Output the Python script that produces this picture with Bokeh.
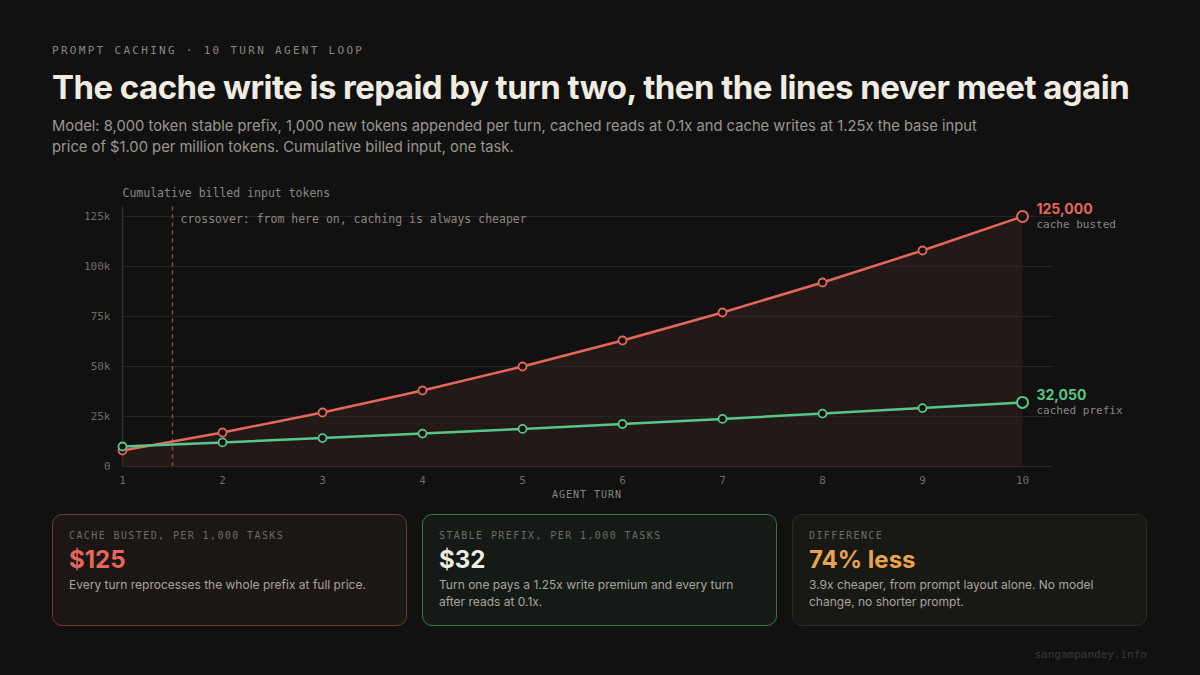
from bokeh.plotting import figure
from bokeh.models import (Range1d, FixedTicker, Label, Div, ColumnDataSource)
from bokeh.layouts import column
from bokeh.embed import file_html
from bokeh.resources import INLINE

# ---------------- data ----------------
turns = [1, 2, 3, 4, 5, 6, 7, 8, 9, 10]
busted = [8000, 17000, 27000, 38000, 50000, 63000, 77000, 92000, 108000, 125000]
cached = [10000, 12050, 14200, 16450, 18800, 21250, 23800, 26450, 29200, 32050]
y_ticks = [0, 25000, 50000, 75000, 100000, 125000]
y_tick_labels = ["0", "25k", "50k", "75k", "100k", "125k"]
x_tick_labels = [str(t) for t in turns]
x_axis_title = "AGENT TURN"
crossover_turn = 1.5
axis_top = 130000
axis_right = 10.3
series_names = ["cache busted", "cached prefix"]
card_labels = ["CACHE BUSTED, PER 1,000 TASKS", "STABLE PREFIX, PER 1,000 TASKS", "DIFFERENCE"]
card_values = ["$125", "$32", "74% less"]
card_texts = ["Every turn reprocesses the whole prefix at full price.",
              "Turn one pays a 1.25x write premium and every turn<br>after reads at 0.1x.",
              "3.9x cheaper, from prompt layout alone. No model<br>change, no shorter prompt."]

# ---------------- style ----------------
BG = "#111111"
RED = "#e5675a"
GREEN = "#58c88a"
ORANGE = "#e9a34f"
CREAM = "#f0ece1"
GRAY = "#8a8781"
DIM = "#6f6c67"
MONO = "DejaVu Sans Mono"
SANS = "Inter"

# ---------------- header ----------------
header_html = f"""
<div style="width:1184px;height:168px;box-sizing:border-box;padding:36px 0 0 44px;background:{BG};">
  <div style="font-family:'{MONO}';font-size:11px;line-height:14px;letter-spacing:2.3px;color:{GRAY};white-space:nowrap;">PROMPT CACHING · 10 TURN AGENT LOOP</div>
  <div style="font-family:'{SANS}';font-weight:700;font-size:33px;line-height:40px;letter-spacing:-0.55px;color:{CREAM};margin-top:9px;white-space:nowrap;">The cache write is repaid by turn two, then the lines never meet again</div>
  <div style="font-family:'{SANS}';font-size:14.75px;line-height:21px;color:#9a9790;margin-top:9px;white-space:nowrap;">Model: 8,000 token stable prefix, 1,000 new tokens appended per turn, cached reads at 0.1x and cache writes at 1.25x the base input<br>price of $1.00 per million tokens. Cumulative billed input, one task.</div>
</div>
"""
header = Div(text=header_html, width=1184, height=168, margin=0, disable_math=True)

# ---------------- chart ----------------
p = figure(width=1184, height=313, x_range=Range1d(0.88, 11.30), y_range=Range1d(0, 143000),
           output_backend="svg", toolbar_location=None,
           min_border_left=102, min_border_right=40, min_border_top=4, min_border_bottom=23,
           background_fill_color=BG, border_fill_color=BG, outline_line_color=None)
p.xgrid.visible = False
p.ygrid.visible = False

# area under the cache-busted line
p.varea(x=turns, y1=[0] * len(turns), y2=busted, fill_color="#231a18")

# grid lines (from tick values)
grid_src = ColumnDataSource(dict(y=y_ticks[1:]))
p.segment(x0=turns[0], x1=axis_right, y0="y", y1="y", source=grid_src, line_color="#272523", line_width=1)
# y axis line at turn 1
p.segment(x0=[turns[0]], x1=[turns[0]], y0=[0], y1=[axis_top], line_color="#2f2d2a", line_width=1.5)

# crossover marker
p.segment(x0=[crossover_turn], x1=[crossover_turn], y0=[0], y1=[axis_top],
          line_color="#934a3b", line_dash="4 4", line_width=1.5)

# series
p.line(turns, busted, line_color=RED, line_width=2.5)
p.line(turns, cached, line_color=GREEN, line_width=2.5)
p.scatter(turns[:-1], busted[:-1], size=8, fill_color=BG, line_color=RED, line_width=1.8)
p.scatter(turns[:-1], cached[:-1], size=8, fill_color=BG, line_color=GREEN, line_width=1.8)
p.scatter(turns[-1:], busted[-1:], size=11, fill_color=BG, line_color=RED, line_width=2)
p.scatter(turns[-1:], cached[-1:], size=11, fill_color=BG, line_color=GREEN, line_width=2)

# axes
xa = p.xaxis[0]
xa.ticker = FixedTicker(ticks=turns)
xa.major_label_overrides = {t: l for t, l in zip(turns, x_tick_labels)}
xa.bounds = (turns[0], axis_right)
xa.axis_line_color = "#2c2a28"
xa.axis_line_width = 1
xa.major_tick_line_color = None
xa.minor_tick_line_color = None
xa.major_tick_out = 0
xa.major_tick_in = 0
xa.major_label_standoff = 9
xa.major_label_text_font = MONO
xa.major_label_text_font_size = "11px"
xa.major_label_text_color = DIM

ya = p.yaxis[0]
ya.ticker = FixedTicker(ticks=y_ticks)
ya.major_label_overrides = {t: l for t, l in zip(y_ticks, y_tick_labels)}
ya.axis_line_color = None
ya.major_tick_line_color = None
ya.minor_tick_line_color = None
ya.major_tick_out = 0
ya.major_tick_in = 0
ya.major_label_standoff = 0
ya.major_label_text_font = MONO
ya.major_label_text_font_size = "11px"
ya.major_label_text_color = DIM

# annotations
p.add_layout(Label(x=turns[0], y=axis_top, y_offset=14, text="Cumulative billed input tokens",
                   text_font=MONO, text_font_size="11.5px", text_color=GRAY, text_baseline="middle"))
p.add_layout(Label(x=crossover_turn, x_offset=8, y=y_ticks[-1], y_offset=-2,
                   text="crossover: from here on, caching is always cheaper",
                   text_font=MONO, text_font_size="11.5px", text_color=GRAY, text_baseline="middle"))

for vals, col, name in [(busted, RED, series_names[0]), (cached, GREEN, series_names[1])]:
    p.add_layout(Label(x=turns[-1], y=vals[-1], x_offset=14, y_offset=8, text=f"{vals[-1]:,}",
                       text_font=SANS, text_font_style="bold", text_font_size="14px",
                       text_color=col, text_baseline="middle"))
    p.add_layout(Label(x=turns[-1], y=vals[-1], x_offset=14, y_offset=-8, text=name,
                       text_font=MONO, text_font_size="11px", text_color=GRAY, text_baseline="middle"))

# ---------------- cards ----------------
card_styles = [("#6e3a31", "#1c1615", RED), ("#3a7450", "#151a17", CREAM), ("#2b2a27", "#181815", ORANGE)]
cards_inner = ""
for (border, bg, vcol), lab, val, txt in zip(card_styles, card_labels, card_values, card_texts):
    cards_inner += f"""
  <div style="box-sizing:border-box;width:355px;height:112px;border:1px solid {border};border-radius:10px;background:{bg};padding:14px 16px 0 16px;flex:none;">
    <div style="font-family:'{MONO}';font-size:10px;line-height:13px;letter-spacing:1.4px;color:{DIM};white-space:nowrap;">{lab}</div>
    <div style="font-family:'{SANS}';font-weight:700;font-size:24px;line-height:30px;color:{vcol};margin-top:3px;white-space:nowrap;">{val}</div>
    <div style="font-family:'{SANS}';font-size:12px;line-height:17px;color:#a9a59d;margin-top:1px;white-space:nowrap;">{txt}</div>
  </div>"""

cards_html = f"""
<div style="width:1184px;height:178px;box-sizing:border-box;padding:25px 0 0 44px;background:{BG};position:relative;">
  <div style="position:absolute;left:479px;top:0px;width:200px;text-align:center;font-family:'{MONO}';font-size:10px;line-height:11px;letter-spacing:1px;color:{GRAY};">{x_axis_title}</div>
  <div style="display:flex;gap:15px;">{cards_inner}
  </div>
  <div style="position:absolute;right:45px;top:159px;font-family:'{MONO}';font-size:11px;line-height:14px;color:#3b3a37;">sangampandey.info</div>
</div>
"""
cards = Div(text=cards_html, width=1184, height=178, margin=0, disable_math=True)

layout = column(header, p, cards, spacing=0, margin=0, styles={"background-color": BG})

TEMPLATE = """{% block preamble %}<style>html, body { background: #111111 !important; margin: 0 !important; padding: 0 !important; } body { padding: 8px !important; box-sizing: border-box; }</style>{% endblock %}"""

open("out.html", "w").write(file_html(layout, INLINE, template=TEMPLATE))
